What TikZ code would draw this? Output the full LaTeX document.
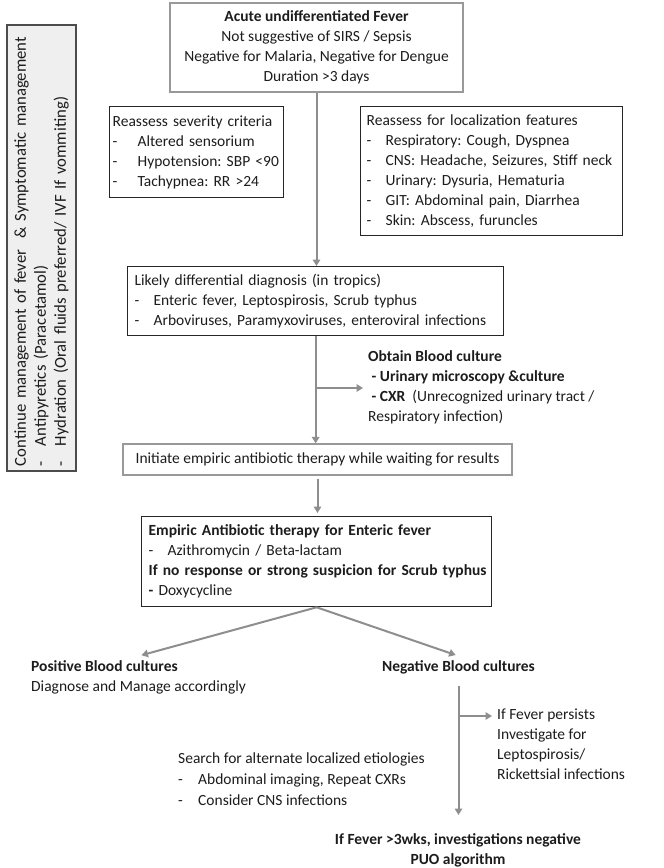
\documentclass[tikz,border=0pt]{standalone}
\usepackage{fontspec}
\setmainfont{Carlito}
\usetikzlibrary{arrows.meta}

\definecolor{linegray}{HTML}{8E8E8E}
\definecolor{boxfill}{HTML}{EFEFEF}
\definecolor{inkgray}{HTML}{1C1C1C}

% dash item with a fixed indent, kept on one line
\newcommand{\itm}[2][19pt]{\mbox{\makebox[#1][l]{-}#2}}

\tikzset{
  txt/.style={font=\fontsize{15.5}{20}\selectfont\frenchspacing, text=inkgray, inner xsep=5pt, inner ysep=4pt, align=left},
  blackbox/.style={txt, draw=black!85, line width=1.3pt},
  graybox/.style={txt, draw=black!40, line width=1.3pt},
  flow/.style={draw=linegray, line width=2pt, -{Triangle[length=6.5pt,width=7.5pt]}},
}

\begin{document}
\begin{tikzpicture}[x=1pt,y=-1pt]
			%%%%% START %%%%%
			\useasboundingbox (0,0) rectangle (664,868);
			
			% side box
			\node[txt, font=\fontsize{16.7}{20}\selectfont, draw=black!70, line width=1.3pt, fill=boxfill, rotate=90, minimum width=446pt, minimum height=69pt, text width=436pt] (care) at (41.5,248) {\noindent\mbox{Continue management of fever \ \& Symptomatic management}\\\itm[20pt]{Antipyretics (Paracetamol)}\\\itm[20pt]{Hydration (Oral fluids preferred/ IVF If vommiting)}};
			
			\node[graybox, align=center, minimum width=293pt, minimum height=89pt] (fever) at (316.5,47.5) {\textbf{Acute undifferentiated Fever}\\Not suggestive of SIRS / Sepsis\\Negative for Malaria, Negative for Dengue\\Duration >3 days};
			
			\node[blackbox, anchor=north west, text width=168pt, minimum height=91pt, inner xsep=3pt] (severity) at (109,106) {\mbox{Reassess severity criteria}\\\itm[25pt]{Altered sensorium}\\\itm[25pt]{Hypotension: SBP <90}\\\itm[25pt]{Tachypnea: RR >24}};
			
			\node[blackbox, anchor=north west, text width=250pt, minimum height=129pt, inner xsep=6pt] (local) at (360,106) {\mbox{Reassess for localization features}\\\itm{Respiratory: Cough, Dyspnea}\\\itm{CNS: Headache, Seizures, Stiff neck}\\\itm{Urinary: Dysuria, Hematuria}\\\itm{GIT: Abdominal pain, Diarrhea}\\\itm{Skin: Abscess, furuncles}};
			
			\node[blackbox, anchor=north west, text width=362pt, minimum height=69pt, inner xsep=7pt] (likely) at (127,266) {\mbox{Likely differential diagnosis (in tropics)}\\\itm{Enteric fever, Leptospirosis, Scrub typhus}\\\itm{Arboviruses, Paramyxoviruses, enteroviral infections}};
			
			\node[txt, anchor=north west] (blood) at (363,346) {\textbf{Obtain Blood culture}\\\ \textbf{- Urinary microscopy \&culture}\\\ \textbf{- CXR}\ \ (Unrecognized urinary tract /\\Respiratory infection)};
			
			\node[graybox, align=center, minimum width=389pt, minimum height=31pt] (initiate) at (317.5,459.5) {Initiate empiric antibiotic therapy while waiting for results};
			
			\node[blackbox, anchor=north west, text width=336pt, minimum height=90pt, inner xsep=7pt] (empiric) at (141,516) {\mbox{\textbf{Empiric Antibiotic therapy for Enteric fever}}\\\itm{Azithromycin / Beta-lactam}\\\mbox{\textbf{If no response or strong suspicion for Scrub typhus}}\\\textbf{-} Doxycycline};
			
			\node[txt, anchor=north west] (positive) at (26,656) {\textbf{Positive Blood cultures}\\Diagnose and Manage accordingly};
			\node[txt, anchor=north] (negative) at (458.5,656) {\textbf{Negative Blood cultures}};
			
			\node[txt, anchor=north west] (persist) at (492,705) {If Fever persists\\Investigate for\\Leptospirosis/\\Rickettsial infections};
			
			\node[txt, anchor=north west, font=\fontsize{15.5}{21}\selectfont] (search) at (173,749) {Search for alternate localized etiologies\\\itm[20pt]{Abdominal imaging, Repeat CXRs}\\\itm[20pt]{Consider CNS infections}};
			
			\node[txt, anchor=north, align=center] (puo) at (458,829) {\textbf{If Fever >3wks, investigations negative}\\\textbf{PUO algorithm}};
			
			% arrows
			\draw[flow] (fever.south) -- (fever.south |- likely.north);
			\draw[flow] (likely.south) -- (likely.south |- initiate.north);
			\coordinate (bcjoin) at (315,388);
			\draw[flow] (bcjoin) -- (bcjoin -| blood.west);
			\draw[flow, shorten <=3pt, shorten >=3pt] (initiate.south) -- (initiate.south |- empiric.north);
			\draw[flow, shorten >=3pt] (empiric.south) -- (positive.north);
			\draw[flow, shorten >=3pt] (empiric.south) -- (negative.north);
			\draw[flow, shorten <=8pt, shorten >=14pt] (negative.south) -- (negative.south |- puo.north);
			\coordinate (nbjoin) at (458.5,716);
			\draw[flow] (nbjoin) -- (nbjoin -| persist.west);
			
			%%%%% END %%%%%
\end{tikzpicture}
\end{document}
